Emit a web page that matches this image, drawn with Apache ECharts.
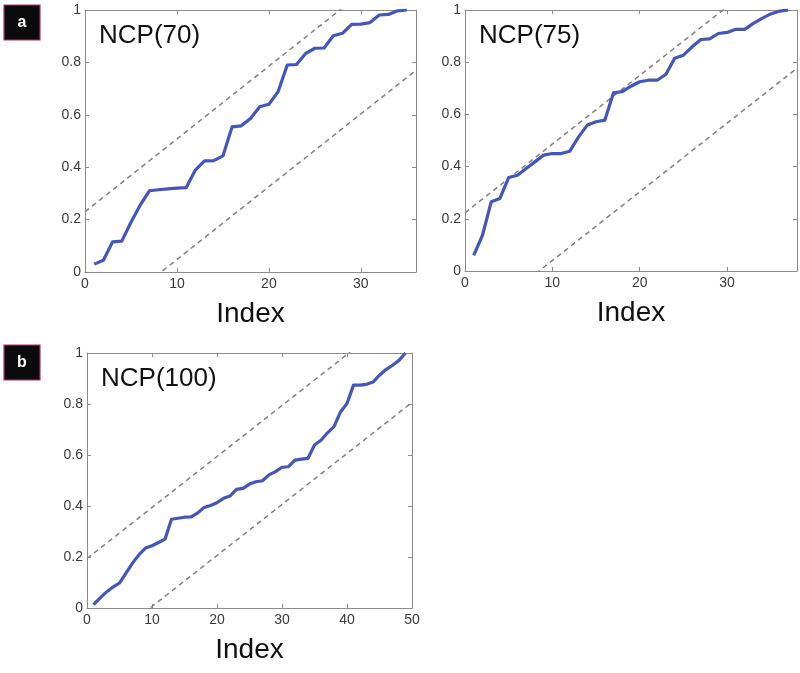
<!DOCTYPE html>
<html>
<head>
<meta charset="utf-8">
<script src="https://cdn.jsdelivr.net/npm/echarts@6/dist/echarts.min.js"></script>
<style>
html,body{margin:0;padding:0;background:#fff;}
#chart{width:800px;height:673px;}
</style>
</head>
<body>
<div id="chart"></div>
<script>
// ---- data ----
const panelTitles = ['NCP(70)', 'NCP(75)', 'NCP(100)'];
const panelLetters = ['a', 'b'];
const xMaxes = [36, 38, 50];
const yTicks = [0, 0.2, 0.4, 0.6, 0.8, 1];
const bandHalfWidths = [0.23, 0.223, 0.194];

const ncp70 = [0.03, 0.045, 0.115, 0.118, 0.19, 0.255, 0.31, 0.314, 0.317, 0.32,
  0.322, 0.389, 0.424, 0.425, 0.443, 0.554, 0.558, 0.586, 0.631, 0.64,
  0.688, 0.79, 0.792, 0.834, 0.854, 0.855, 0.902, 0.911, 0.945, 0.946,
  0.952, 0.981, 0.983, 0.997, 1.0];
const ncp75 = [0.06, 0.137, 0.265, 0.278, 0.358, 0.367, 0.393, 0.418, 0.444, 0.45,
  0.45, 0.459, 0.514, 0.559, 0.572, 0.578, 0.683, 0.687, 0.708, 0.725,
  0.731, 0.731, 0.754, 0.815, 0.827, 0.859, 0.887, 0.889, 0.91, 0.914,
  0.926, 0.926, 0.949, 0.968, 0.985, 0.996, 1.0];
const ncp100 = [0.013, 0.039, 0.063, 0.082, 0.098, 0.137, 0.176, 0.209, 0.235, 0.244,
  0.257, 0.27, 0.348, 0.352, 0.356, 0.357, 0.372, 0.394, 0.402, 0.413,
  0.43, 0.439, 0.465, 0.469, 0.486, 0.495, 0.499, 0.522, 0.535, 0.552,
  0.554, 0.58, 0.584, 0.587, 0.639, 0.658, 0.687, 0.711, 0.769, 0.802,
  0.874, 0.874, 0.877, 0.886, 0.913, 0.935, 0.952, 0.971, 1.0];

// ---- build chart ----
const FONT = '"Liberation Sans", Arial, Helvetica, sans-serif';
const seriesData = [ncp70, ncp75, ncp100];
const grids = [
  {left: 85, top: 10, width: 331, height: 262},
  {left: 465, top: 10, width: 332, height: 261},
  {left: 87, top: 353, width: 325, height: 255}
];
const frameColor = '#8c8c8c';
const textColor = '#3a3a3a';

const option = {
  animation: false,
  backgroundColor: '#fff',
  grid: grids.map(g => Object.assign({show: false}, g)),
  xAxis: [],
  yAxis: [],
  series: [],
  graphic: []
};

function tickCfg() {
  return {show: true, inside: true, length: 4, lineStyle: {color: frameColor, width: 1}};
}
function lineCfg() {
  return {show: true, onZero: false, lineStyle: {color: frameColor, width: 1}};
}

grids.forEach((g, i) => {
  const xMax = xMaxes[i];
  option.xAxis.push({
    type: 'value', gridIndex: i, min: 0, max: xMax, interval: 10, position: 'bottom',
    axisLine: lineCfg(), axisTick: tickCfg(), splitLine: {show: false},
    axisLabel: {color: textColor, fontSize: 14, fontFamily: FONT, margin: 5,
      showMaxLabel: i === 2, formatter: v => String(v)}
  });
  option.xAxis.push({
    type: 'value', gridIndex: i, min: 0, max: xMax, interval: 10, position: 'top',
    axisLine: lineCfg(), axisTick: tickCfg(), splitLine: {show: false},
    axisLabel: {show: false}
  });
  option.yAxis.push({
    type: 'value', gridIndex: i, min: 0, max: 1, interval: 0.2, position: 'left',
    axisLine: lineCfg(), axisTick: tickCfg(), splitLine: {show: false},
    axisLabel: {color: textColor, fontSize: 14, fontFamily: FONT, margin: 4,
      formatter: v => (v === 0 || v === 1) ? String(v) : v.toFixed(1)}
  });
  option.yAxis.push({
    type: 'value', gridIndex: i, min: 0, max: 1, interval: 0.2, position: 'right',
    axisLine: lineCfg(), axisTick: tickCfg(), splitLine: {show: false},
    axisLabel: {show: false}
  });

  const d = bandHalfWidths[i];
  const xAxisIndex = i * 2, yAxisIndex = i * 2;
  [[[0, d], [xMax, 1 + d]], [[0, -d], [xMax, 1 - d]]].forEach(pts => {
    option.series.push({
      type: 'line', xAxisIndex, yAxisIndex, data: pts, showSymbol: false, symbol: 'none',
      clip: true, silent: true,
      lineStyle: {color: '#808080', width: 1.5, type: [5, 4]}
    });
  });
  option.series.push({
    type: 'line', xAxisIndex, yAxisIndex, symbol: 'none', clip: true, silent: true,
    data: seriesData[i].map((v, k) => [k + 1, v]),
    lineStyle: {color: '#4456b8', width: 3.2, join: 'round'}
  });

  option.graphic.push({
    type: 'text', left: g.left + 14, top: g.top + 13,
    style: {text: panelTitles[i], fontSize: 26, fontFamily: FONT, fill: '#111'}
  });
  option.graphic.push({
    type: 'text', x: g.left + g.width / 2, y: g.top + g.height + 42,
    style: {text: 'Index', fontSize: 28, fontFamily: FONT, fill: '#111', align: 'center', verticalAlign: 'middle'}
  });
});

[[4, 5, panelLetters[0]], [4, 345, panelLetters[1]]].forEach(([x, y, t]) => {
  option.graphic.push({
    type: 'rect', shape: {x: x, y: y, width: 36, height: 35},
    style: {fill: '#0b0b0b', stroke: '#b0346a', lineWidth: 1.2}
  });
  option.graphic.push({
    type: 'text', x: x + 18, y: y + 18,
    style: {text: t, fontSize: 16, fontWeight: 'bold', fontFamily: FONT, fill: '#fff', align: 'center', verticalAlign: 'middle'}
  });
});

const chart = echarts.init(document.getElementById('chart'), null, {renderer: 'canvas'});
chart.setOption(option);
</script>
</body>
</html>
